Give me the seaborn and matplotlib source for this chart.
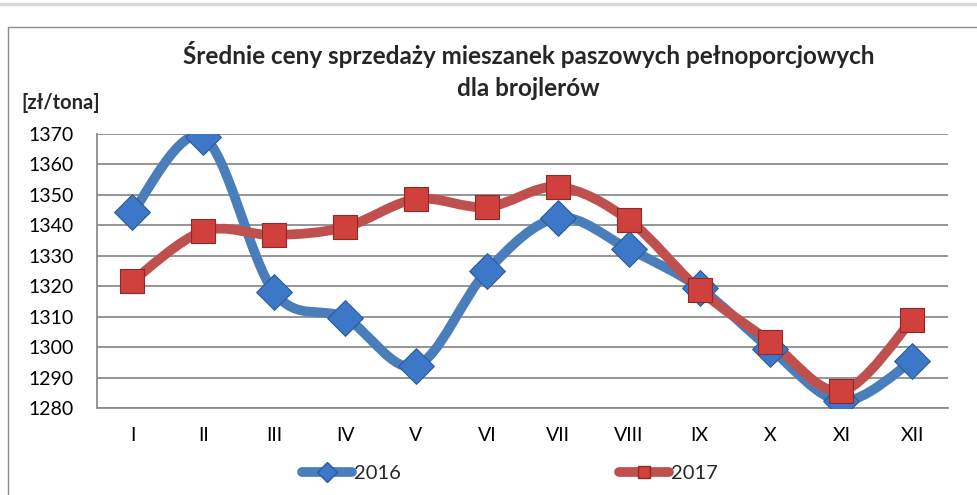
import numpy as np
import pandas as pd
import matplotlib.pyplot as plt
import seaborn as sns
from matplotlib.path import Path
from matplotlib.patches import PathPatch
from matplotlib.lines import Line2D

months = ["I", "II", "III", "IV", "V", "VI", "VII", "VIII", "IX", "X", "XI", "XII"]
prices_2016 = [1344.4, 1369.0, 1318.0, 1309.6, 1293.8, 1325.0,
               1342.4, 1332.2, 1319.4, 1299.4, 1282.3, 1295.4]
prices_2017 = [1321.7, 1338.1, 1336.8, 1339.4, 1348.6, 1346.0,
               1352.6, 1341.7, 1318.8, 1301.7, 1285.6, 1308.9]
y_ticks = [1280, 1290, 1300, 1310, 1320, 1330, 1340, 1350, 1360, 1370]

df = pd.DataFrame({"month": months, "2016": prices_2016, "2017": prices_2017})
df["pos"] = np.arange(len(months))

BLUE = "#4a7ebb"
RED = "#c0504d"
GRID = "#8c8c8c"

sns.set_style("white")
plt.rcParams["font.family"] = ["Lato", "DejaVu Sans"]

fig = plt.figure(figsize=(9.77, 4.95), dpi=100)
ax = fig.add_axes([0.0993, 0.1758, 0.8707, 0.5535])


def smooth_path(x, y):
    # Excel-like bezier smoothing through the data points
    pts = np.column_stack([x, y]).astype(float)
    n = len(pts)
    verts = [pts[0]]
    codes = [Path.MOVETO]
    for i in range(n - 1):
        p0 = pts[max(i - 1, 0)]
        p1 = pts[i]
        p2 = pts[i + 1]
        p3 = pts[min(i + 2, n - 1)]
        c1 = p1 + (p2 - p0) / 6
        c2 = p2 - (p3 - p1) / 6
        verts += [c1, c2, p2]
        codes += [Path.CURVE4] * 3
    return Path(verts, codes)


for col, color in [("2016", BLUE), ("2017", RED)]:
    patch = PathPatch(smooth_path(df["pos"], df[col]), fill=False,
                      edgecolor=color, lw=7, capstyle="round",
                      joinstyle="round", zorder=3)
    ax.add_patch(patch)

sns.scatterplot(data=df, x="pos", y="2016", marker="D", s=330, color="#3d78c8",
                edgecolor="#2a5a9a", linewidth=0.8, ax=ax, zorder=4)
sns.scatterplot(data=df, x="pos", y="2017", marker="s", s=290, color="#d0403c",
                edgecolor="#8f2a28", linewidth=0.8, ax=ax, zorder=4)

ax.set_xlim(-0.5, 11.5)
ax.set_ylim(1280, 1370)
ax.set_yticks(y_ticks)
ax.set_xticks(df["pos"])
ax.set_xticklabels(months)
ax.set_xticks(np.arange(-0.5, 12, 1), minor=True)
ax.tick_params(axis="x", which="major", length=0, pad=14, labelsize=14, colors="black")
ax.tick_params(axis="x", which="minor", length=6, width=1.3, color=GRID, direction="out")
ax.tick_params(axis="y", length=7, width=1.3, color=GRID, direction="out",
               labelsize=14, pad=10, colors="black")
ax.yaxis.grid(True, color=GRID, lw=1.3)
ax.set_axisbelow(True)
for side in ["top", "right"]:
    ax.spines[side].set_visible(False)
for side in ["left", "bottom"]:
    ax.spines[side].set_color(GRID)
    ax.spines[side].set_linewidth(1.3)
ax.set_xlabel("")
ax.set_ylabel("")

fig.text(0.541, 0.889, "Średnie ceny sprzedaży mieszanek paszowych pełnoporcjowych",
         ha="center", va="center", fontsize=17.5, fontweight="bold")
fig.text(0.541, 0.822, "dla brojlerów", ha="center", va="center",
         fontsize=17.5, fontweight="bold")
fig.text(0.022, 0.792, "[zł/tona]", ha="left", va="center", fontsize=14.5, fontweight="bold")

handles = [
    Line2D([], [], color=BLUE, lw=7, marker="D", markersize=10,
           markerfacecolor="#3d78c8", markeredgecolor="#2a5a9a", solid_capstyle="round"),
    Line2D([], [], color=RED, lw=7, marker="s", markersize=9,
           markerfacecolor="#d0403c", markeredgecolor="#8f2a28", solid_capstyle="round"),
]
fig.legend(handles, ["2016", "2017"], loc="center", bbox_to_anchor=(0.522, 0.043),
           ncol=2, frameon=False, fontsize=14.5, handlelength=2.5, handletextpad=0.1,
           columnspacing=10.8)

# chart frame lines
fig.add_artist(Line2D([0, 1], [0.992, 0.992], color="#d9d9d9", lw=2.5, transform=fig.transFigure))
fig.add_artist(Line2D([0.0082, 1], [0.945, 0.945], color="#8c8c8c", lw=1.0, transform=fig.transFigure))
fig.add_artist(Line2D([0.0082, 0.0082], [0, 0.945], color="#8c8c8c", lw=1.0, transform=fig.transFigure))

fig.savefig("out.png", dpi=100)
